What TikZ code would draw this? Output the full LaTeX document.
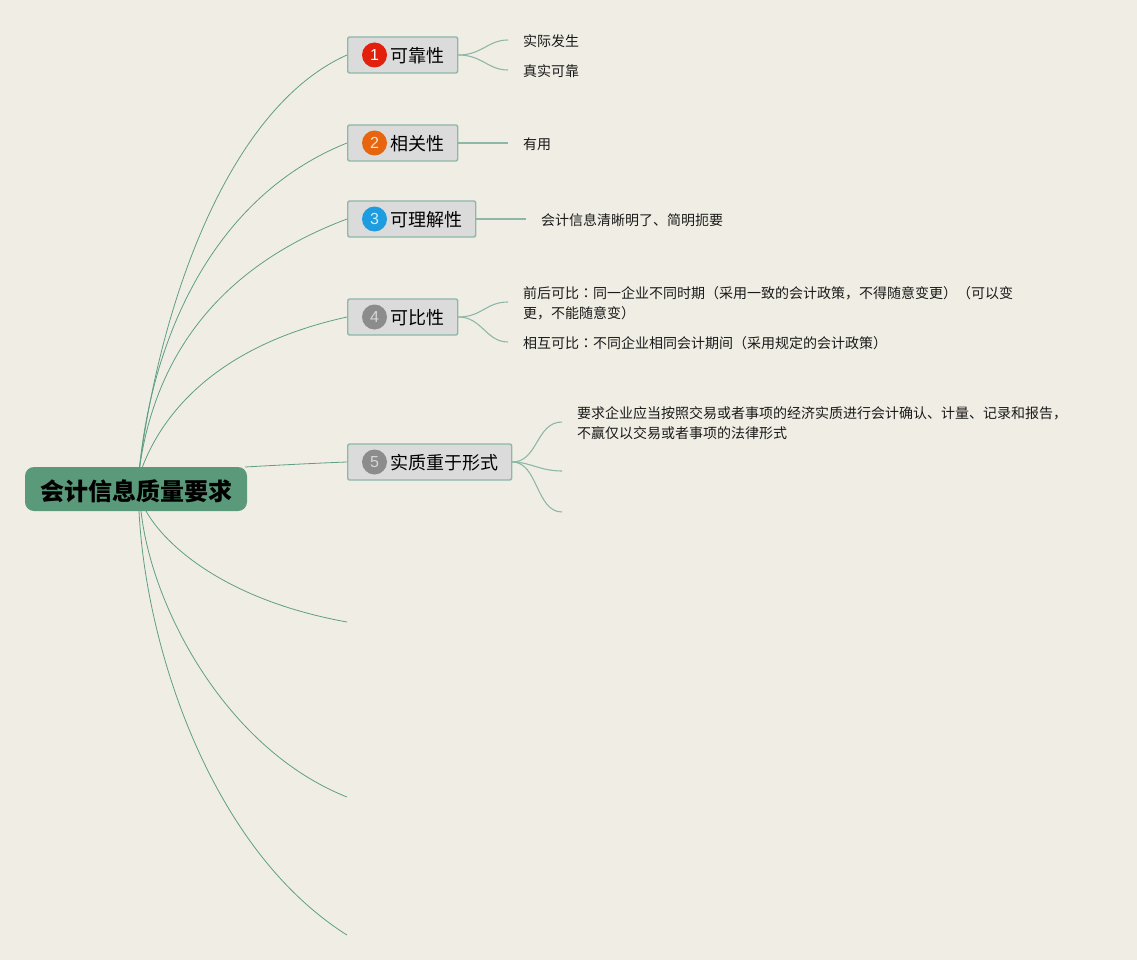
\documentclass[tikz,border=0pt]{standalone}
\usepackage{fontspec}
\setmainfont{Noto Sans CJK SC}
\newfontfamily\numfont{Liberation Sans}
\newfontfamily\tcfont{Noto Sans CJK TC}
\usetikzlibrary{backgrounds}
\definecolor{pagebg}{HTML}{F0EEE4}
\definecolor{rootfill}{HTML}{5A9A7A}
\definecolor{linecol}{HTML}{5F9E85}
\definecolor{leafline}{HTML}{8DB8A8}
\definecolor{boxfill}{HTML}{DADBDA}
\definecolor{bRed}{HTML}{E2200C}
\definecolor{bOrange}{HTML}{E8650F}
\definecolor{bBlue}{HTML}{1E9CE0}
\definecolor{bGrey}{HTML}{8C8C8C}
\tikzset{
  x=1pt,y=-1pt,
  rootbox/.style={rectangle,rounded corners=9pt,fill=rootfill,minimum width=222pt,minimum height=44pt,inner sep=0pt,text height=22.5pt,text depth=0.5pt,font=\fontsize{24}{28}\selectfont\bfseries,text=black},
  topicbox/.style={rectangle,rounded corners=2pt,draw=leafline,line width=1.4pt,fill=boxfill,minimum height=36pt,inner xsep=0pt,inner ysep=0pt,text height=16pt,text depth=0.3pt,anchor=west,font=\fontsize{18}{22}\selectfont,text=black},
  badge/.style={circle,minimum size=25pt,inner sep=0pt,font=\numfont\fontsize{16}{20}\selectfont},
  leaf/.style={anchor=west,inner xsep=15pt,inner ysep=0pt,align=left,font=\fontsize{14}{20}\selectfont,text=black!90},
  mainline/.style={draw=linecol,line width=0.8pt},
  subline/.style={draw=leafline,line width=1.1pt},
}
\newcommand{\topiclabel}[1]{\hspace*{43pt}#1\hspace*{13pt}}
\newcommand{\tcc}{{\tcfont ：}}
\begin{document}
\begin{tikzpicture}
\useasboundingbox (0,0) rectangle (1137,960);
\coordinate (hubN) at (139.5,468);
\coordinate (hubNb) at (142,468);
\coordinate (hubS) at (139,511);
\coordinate (hubSb) at (141,511);
\coordinate (hubSc) at (146,511);
\coordinate (hubE) at (245,467);
\coordinate (e6) at (347,622);
\coordinate (e7) at (347,797);
\coordinate (e8) at (347,935);
\node[rootbox] (root) at (136,489) {会计信息质量要求};
\node[topicbox] (t1) at (347,55) {\topiclabel{可靠性}};
\node[topicbox] (t2) at (347,143) {\topiclabel{相关性}};
\node[topicbox] (t3) at (347,219) {\topiclabel{可理解性}};
\node[topicbox] (t4) at (347,317) {\topiclabel{可比性}};
\node[topicbox] (t5) at (347,462) {\topiclabel{实质重于形式}};
\node[badge,fill=bRed,text=white] (b1) at (374.5,55) {1};
\node[badge,fill=bOrange,text=white!80!bOrange] (b2) at (374.5,143) {2};
\node[badge,fill=bBlue,text=white!80!bBlue] (b3) at (374.5,219) {3};
\node[badge,fill=bGrey,text=white!65!bGrey] (b4) at (374.5,317) {4};
\node[badge,fill=bGrey,text=white!65!bGrey] (b5) at (374.5,462) {5};
\node[leaf] (l1a) at (508,41) {实际发生};
\node[leaf] (l1b) at (508,71) {真实可靠};
\node[leaf] (l2a) at (508,144) {有用};
\node[leaf] (l3a) at (526,220) {会计信息清晰明了、简明扼要};
\node[leaf] (l4a) at (508,303.5) {前后可比\tcc 同一企业不同时期（采用一致的会计政策，不得随意变更）（可以变\\更，不能随意变）};
\node[leaf] (l4b) at (508,343) {相互可比\tcc 不同企业相同会计期间（采用规定的会计政策）};
\node[leaf] (l5a) at (562,423.5) {要求企业应当按照交易或者事项的经济实质进行会计确认、计量、记录和报告，\\不赢仅以交易或者事项的法律形式};
\coordinate (e5b) at (562,471);
\coordinate (e5c) at (562,512);
\begin{scope}[on background layer]
\fill[pagebg] (0,0) rectangle (1137,960);
\draw[mainline] (hubN) .. controls (160,305) and (228,108) .. (t1.west);
\draw[mainline] (hubN) .. controls (152,340) and (212,197) .. (t2.west);
\draw[mainline] (hubN) .. controls (152,380) and (198,275) .. (t3.west);
\draw[mainline] (hubNb) .. controls (160,420) and (210,347) .. (t4.west);
\draw[mainline] (hubE) .. controls (280,465) and (320,463) .. (t5.west);
\draw[mainline] (hubSc) .. controls (165,545) and (225,600) .. (e6);
\draw[mainline] (hubSb) .. controls (152,610) and (228,750) .. (e7);
\draw[mainline] (hubS) .. controls (146,650) and (212,850) .. (e8);
\draw[subline] (t1.east) .. controls (482,55) and (488,40) .. ([yshift=1pt]l1a.west);
\draw[subline] (t1.east) .. controls (482,55) and (488,70) .. ([yshift=1pt]l1b.west);
\draw[subline] (t2.east) -- ([yshift=1pt]l2a.west);
\draw[subline] (t3.east) -- ([yshift=1pt]l3a.west);
\draw[subline] (t4.east) .. controls (482,317) and (486,302) .. ([yshift=1.5pt]l4a.west);
\draw[subline] (t4.east) .. controls (482,317) and (486,342) .. ([yshift=1pt]l4b.west);
\draw[subline] (t5.east) .. controls (538,462) and (536,422) .. ([yshift=1.5pt]l5a.west);
\draw[subline] (t5.east) .. controls (530,462) and (540,471) .. (e5b);
\draw[subline] (t5.east) .. controls (538,462) and (536,512) .. (e5c);
\end{scope}
\end{tikzpicture}
\end{document}
